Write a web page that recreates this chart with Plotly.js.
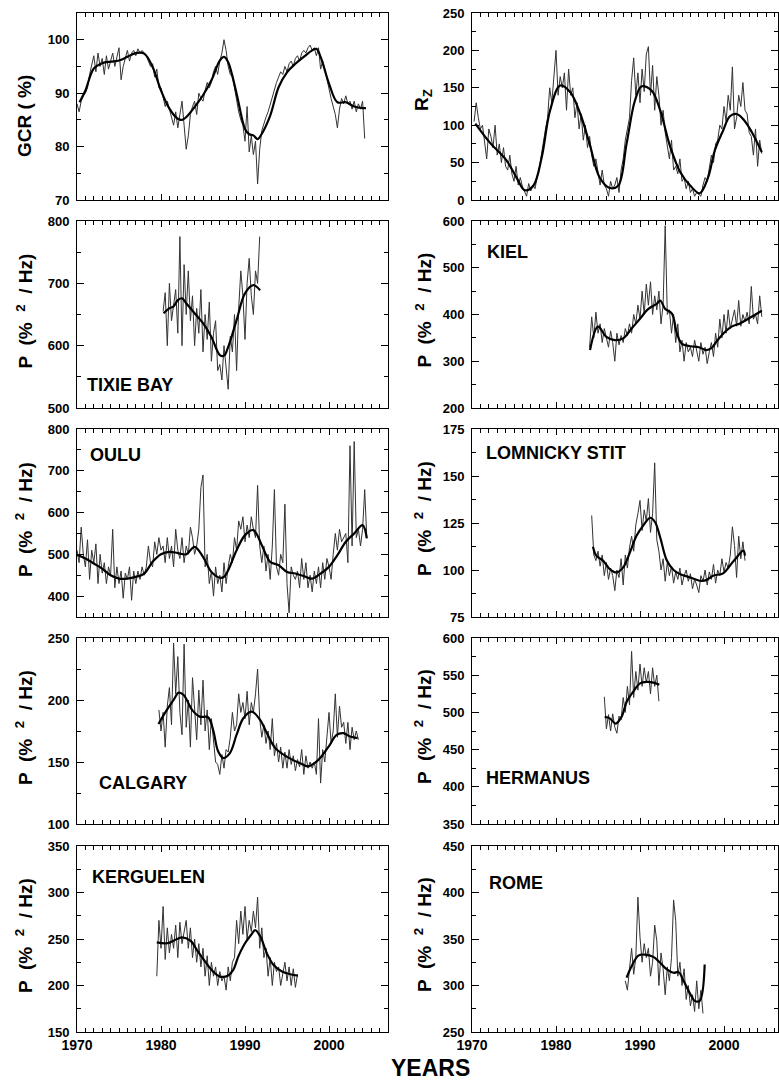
<!DOCTYPE html>
<html>
<head>
<meta charset="utf-8">
<script src="https://cdn.plot.ly/plotly-3.0.1.min.js"></script>
<style>html,body{margin:0;padding:0;background:#fff;}#chart{width:779px;height:1080px;}</style>
</head>
<body>
<div id="chart"></div>
<script>
// ---------- DATA ----------
const rawStep = 0.25; // quarterly samples of the thin (noisy) curves

// GCR (%)
const gcrStart = 1970.0;
const gcrRaw = [88,86.5,88.5,89.5, 90,91,93.5,95, 97,94,97.5,95, 96.5,93.5,97,94.5, 96,97.5,95,96.5, 98.5,92.5,95,96.5, 98,96,97.5,98, 97,98.3,97.5,98, 97.5,97,96,95, 95.5,93,94.5,91, 91,89.5,87.5,88.5, 87,86,84,86.5, 83.5,86,88.5,84, 79.5,82,86,87.5, 88.5,86,90,89, 88.5,90.5,92,91, 92,94,95,93.5, 96,97.5,100,98, 95,93.5,93,91, 88.5,86.5,85,84, 81,87.5,79,82, 78.5,81,73,79.5, 83,84.5,85.5,86.5, 88,89.5,91,92, 93,94,93.5,95, 94,95.5,96,95, 96.5,97,96,97.5, 98,97.5,98.5,99, 98,98.5,97,98.5, 94.5,96,94.5,92.5, 91,89,87.5,86, 83.5,87,89,88, 89.5,88,88.5,87, 88.5,86.5,88,87, 88.5,81.5];
const gcrSmoothYears = [1970.3,1971,1972,1973,1974,1975,1976,1977,1978,1979,1980,1981,1982,1982.5,1983,1984,1985,1986,1987,1987.5,1988,1989,1990,1990.5,1991,1991.5,1992,1993,1994,1995,1996,1997,1998,1998.5,1999,2000,2001,2002,2003,2004,2004.4];
const gcrSmooth = [88.3,90.5,94.6,95.6,95.9,96.1,96.8,97.5,97.4,94.9,90.5,87.1,85.2,85,85.5,87.4,89.6,92.4,96.1,96.8,95.8,89.9,83.3,82.3,82.1,81.4,82.4,85.8,91.1,93.9,95.5,96.8,98,98.3,96.8,91.8,88.3,88.3,87.5,87.2,87.2];

// Sunspot number Rz
const rzStart = 1970.25;
const rzRaw = [105,130,110, 95,100,80,55, 95,85,70,100, 60,75,50,70, 45,40,60,35, 25,45,20,30, 18,10,5,22, 12,20,15,30, 40,60,80,95, 110,150,130,165, 200,140,165,150, 170,120,175,140, 150,110,130,95, 115,80,100,70, 85,60,45,55, 35,20,40,20, 15,5,25,15, 20,30,10,40, 55,80,95,110, 160,190,140,170, 130,175,145,195, 205,140,180,120, 165,140,100,120, 90,70,55,80, 40,45,35,55, 25,30,15,25, 10,15,5,10, 8,5,20,30, 25,45,60,50, 75,80,100,95, 125,105,140,120, 178,95,110,140, 125,157,120,115, 90,85,60,95, 45,80,62];
const rzSmoothYears = [1970.4,1972.1,1974.1,1975.3,1976.3,1977.3,1978.3,1979.3,1980.5,1981.7,1982.9,1984.0,1985.2,1986.4,1987.4,1988.4,1989.4,1990.2,1991.4,1992.4,1993.6,1994.8,1996.0,1997.1,1998.1,1998.9,1999.9,2000.7,2001.5,2002.3,2003.3,2004.5];
const rzSmooth = [102,77,53,30,13,19,57,120,153,144,115,75,30,16,19,75,133,152,146,120,71,37,19,9,30,66,93,112,115,108,91,64];

// TIXIE BAY
const tixStart = 1980.25;
const tixRaw = [655,685,600, 700,640,670,690, 620,775,600,730, 650,720,640,680, 600,660,620,690, 590,650,610,670, 575,620,640,560, 570,545,600,560, 530,615,590,650, 560,660,720,680, 610,700,740,680, 650,720,700,775];
const tixSmoothYears = [1980.3,1981,1981.5,1982,1982.5,1983,1984,1985,1986,1987,1987.5,1988,1989,1990,1991,1991.8];
const tixSmooth = [652,660,663,673,676,668,652,636,614,585,584,598,641,684,697,689];

// KIEL
const kieStart = 1984.0;
const kieRaw = [330,395,350,405, 360,380,340,370, 350,330,365,340, 300,360,335,355, 340,370,355,380, 360,400,380,420, 390,450,400,465, 420,470,400,440, 410,450,380,420, 590,400,410,360, 400,340,380,320, 345,300,340,320, 330,310,345,320, 300,340,315,330, 295,320,340,310, 360,330,390,350, 400,360,410,370, 390,410,375,430, 375,400,385,405, 380,460,390,400, 380,440,395];
const kieSmoothYears = [1984.05,1985.0,1986.0,1987.0,1988.0,1989.0,1990.0,1991.0,1992.0,1992.4,1993.0,1993.8,1994.4,1995.0,1996.0,1997.0,1997.9,1998.5,1999.1,1999.9,2000.9,2001.9,2002.9,2004.5];
const kieSmooth = [324,374,352,345,349,370,391,412,423,430,412,402,359,337,332,330,324,328,342,359,374,381,391,408];

// OULU
const ouStart = 1970.0;
const ouRaw = [510,480,565,500, 470,535,440,510, 480,525,430,500, 455,480,430,470, 450,560,420,470, 430,460,395,455, 440,470,390,460, 430,460,440,470, 450,470,520,480, 470,530,500,540, 510,520,480,540, 490,520,470,560, 510,490,540,480, 520,500,565,540, 500,520,560,660, 690,470,500,430, 460,400,470,430, 450,410,480,430, 470,500,480,540, 510,580,560,590, 530,570,540,590, 560,540,665,520, 480,520,460,500, 440,520,655,470, 450,500,480,620, 430,360,470,450, 440,460,420,490, 440,480,420,450, 410,460,430,470, 420,480,440,490, 470,440,500,550, 510,560,530,540, 550,480,760,520, 770,540,560,520, 560,655,540];
const ouSmoothYears = [1970,1971,1972,1973,1974,1975,1976,1977,1978,1979,1980,1981,1982,1983,1984,1985,1986,1987,1987.5,1988,1989,1990,1991,1992,1993,1994,1995,1996,1997,1998,1999,2000,2001,2002,2003,2004,2004.5];
const ouSmooth = [499,490,478,466,450,442,442,446,454,482,500,506,503,500,518,494,458,444,446,462,510,546,558,522,482,474,458,454,448,442,454,470,498,530,550,570,538];

// LOMNICKY STIT
const loStart = 1984.25;
const loRaw = [129,108,105, 110,102,108,97, 104,95,101,97, 89,100,96,106, 92,108,101,112, 118,110,124,130, 137,121,132,126, 138,120,130,157, 116,110,100,106, 94,104,97,102, 93,99,95,101, 92,97,100,94, 98,90,95,92, 88,97,94,100, 92,99,95,103, 93,100,97,106, 99,104,101,108, 123,113,96,118, 106,115,105];
const loSmoothYears = [1984.4,1984.8,1985.6,1986.4,1987.2,1988.0,1988.8,1989.6,1990.4,1991.2,1991.8,1992.4,1993.2,1994.0,1994.8,1996.0,1997.1,1997.9,1998.7,1999.9,2000.7,2001.5,2002.3,2002.5];
const loSmooth = [112.4,107.6,105,100.5,98.7,101.4,109.4,118.3,123.7,127.8,125.4,117.4,105,100,97.8,96,94.3,94.6,97,98.2,102.3,106.7,110.3,107.6];

// CALGARY
const caStart = 1979.75;
const caRaw = [192, 175,190,162,195, 210,180,246,205, 235,190,172,245, 178,200,162,218, 190,168,208,180, 216,175,192,160, 185,165,150,148, 140,156,145,160, 158,170,190,175, 180,205,190,198, 185,207,180,198, 190,205,225,185, 170,180,165,175, 160,185,155,165, 150,162,145,158, 145,160,148,155, 143,152,146,160, 140,155,145,150, 145,150,140,185, 133,160,150,170, 190,165,175,205, 170,195,178,182, 165,182,160,178, 168,175,168];
const caSmoothYears = [1979.7,1980.7,1981.5,1982.1,1982.7,1983.7,1984.6,1985.6,1986.2,1986.8,1987.4,1988.2,1989.0,1989.8,1990.8,1991.8,1992.6,1993.6,1994.6,1995.6,1996.5,1997.5,1998.3,1999.1,2000.1,2000.9,2001.7,2002.5,2003.4];
const caSmooth = [180.7,192,200,205.9,204,192,186.6,186.1,176,158.6,153.2,157.2,172,185.3,190.6,184,173.3,161.2,155.9,151.9,149.2,146.5,149.2,154.5,163.9,171.9,173.3,170.6,169.3];

// HERMANUS
const heStart = 1985.75;
const heRaw = [521, 478,497,475,498, 480,472,495,490, 520,500,535,510, 582,520,555,530, 565,535,560,540, 555,525,560,535, 550,515];
const heSmoothYears = [1985.8,1986.4,1987.1,1987.8,1988.4,1989.2,1990.0,1990.8,1991.6,1992.3];
const heSmooth = [494,492,485,494,514,528,539,541,540,537];

// KERGUELEN
const keStart = 1979.5;
const keRaw = [210,270, 240,285,228,262, 235,255,240,265, 230,268,245,260, 270,240,262,230, 250,225,245,220, 240,210,232,200, 225,210,220,200, 215,205,210,195, 220,205,225,230, 270,245,280,255, 285,250,270,258, 280,262,295,240, 262,230,240,210, 230,200,225,215, 220,200,215,225, 205,220,200,218, 198,212];
const keSmoothYears = [1979.5,1980.7,1981.5,1982.5,1983.5,1984.4,1985.4,1986.2,1987.0,1988.0,1988.6,1989.2,1990.0,1990.8,1991.2,1991.8,1992.6,1993.4,1994.4,1995.4,1996.3];
const keSmooth = [246.4,245.4,248.2,251.8,248.2,236.4,223.9,215,209.6,210.7,216.8,231,245.4,255.4,259.6,253.2,234.6,222,215,212.1,210.7];

// ROME
const roStart = 1988.25;
const roRaw = [305,295,318, 340,312,330,395, 352,325,345,330, 340,310,325,365, 348,300,335,318, 290,320,305,330, 392,370,310,325, 300,318,285,300, 278,290,272,305, 275,295,270];
const roSmoothYears = [1988.4,1989.0,1989.8,1990.6,1991.6,1992.4,1993.2,1994.0,1994.6,1995.2,1996.0,1996.5,1997.1,1997.7];
const roSmooth = [308.4,320.8,332.2,333.3,330.8,324.4,317.3,313.7,314.4,304.8,290.6,283.5,283.5,322.6];

// axis tick labels
const yearTicks = [1970, 1980, 1990, 2000];
const pTitle = 'P  (%  <sup>2</sup>  / Hz)';

// ---------- PANELS ----------
const panels = [
  {start:gcrStart, raw:gcrRaw, sx:gcrSmoothYears, sy:gcrSmooth, yr:[70,105], dt:10, mdt:5, col:0, row:0, title:'GCR ( %)', tY:116},
  {start:rzStart, raw:rzRaw, sx:rzSmoothYears, sy:rzSmooth, yr:[0,250], dt:50, mdt:25, col:1, row:0, title:'R<sub>Z</sub>', tY:100},
  {start:tixStart, raw:tixRaw, sx:tixSmoothYears, sy:tixSmooth, yr:[500,800], dt:100, mdt:50, col:0, row:1, title:pTitle, label:'TIXIE BAY', lx:1970.95, ly:537},
  {start:kieStart, raw:kieRaw, sx:kieSmoothYears, sy:kieSmooth, yr:[200,600], dt:100, mdt:50, col:1, row:1, title:pTitle, label:'KIEL', lx:1971.55, ly:534},
  {start:ouStart, raw:ouRaw, sx:ouSmoothYears, sy:ouSmooth, yr:[350,800], dt:100, mdt:50, col:0, row:2, title:pTitle, label:'OULU', lx:1971.3, ly:738, tick0:400},
  {start:loStart, raw:loRaw, sx:loSmoothYears, sy:loSmooth, yr:[75,175], dt:25, mdt:12.5, col:1, row:2, title:pTitle, label:'LOMNICKY STIT', lx:1971.4, ly:162},
  {start:caStart, raw:caRaw, sx:caSmoothYears, sy:caSmooth, yr:[100,250], dt:50, mdt:25, col:0, row:3, title:pTitle, label:'CALGARY', lx:1972.4, ly:133},
  {start:heStart, raw:heRaw, sx:heSmoothYears, sy:heSmooth, yr:[350,600], dt:50, mdt:25, col:1, row:3, title:pTitle, label:'HERMANUS', lx:1971.4, ly:412},
  {start:keStart, raw:keRaw, sx:keSmoothYears, sy:keSmooth, yr:[150,350], dt:50, mdt:25, col:0, row:4, title:pTitle, label:'KERGUELEN', lx:1971.55, ly:317},
  {start:roStart, raw:roRaw, sx:roSmoothYears, sy:roSmooth, yr:[250,450], dt:50, mdt:25, col:1, row:4, title:pTitle, label:'ROME', lx:1971.8, ly:410}
];

// ---------- GEOMETRY ----------
const W = 779, H = 1080;
const M = {l:77, r:1, t:13, b:48};
const PW = W - M.l - M.r, PH = H - M.t - M.b;
const colPx = [[77,388],[472,778]];
const rowPx = [[13,200],[221,408],[429,617],[638,824],[846,1032]];
const pxPerYear = 8.4;
const fx = px => (px - M.l) / PW;
const fy = py => (H - M.b - py) / PH;

const FONT = 'Liberation Sans, Arial, Helvetica, sans-serif';
const traces = [];
const layout = {
  width: W, height: H,
  margin: {l:M.l, r:M.r, t:M.t, b:M.b, pad:0},
  paper_bgcolor:'#fff', plot_bgcolor:'#fff',
  showlegend:false,
  font:{family:FONT, color:'#000', size:13, weight:'bold'},
  annotations:[]
};

panels.forEach((p, i) => {
  const n = i + 1;
  const xid = n === 1 ? 'x' : 'x' + n;
  const yid = n === 1 ? 'y' : 'y' + n;
  const rawYears = p.raw.map((_, k) => p.start + k * rawStep);
  traces.push({type:'scatter', mode:'lines', x:rawYears, y:p.raw, xaxis:xid, yaxis:yid,
    line:{color:'#333333', width:1}, hoverinfo:'skip'});
  traces.push({type:'scatter', mode:'lines', x:p.sx, y:p.sy, xaxis:xid, yaxis:yid,
    line:{color:'#000', width:2.2, shape:'spline', smoothing:1}, hoverinfo:'skip'});

  const cp = colPx[p.col], rp = rowPx[p.row];
  const xr = [1970, 1970 + (cp[1] - cp[0]) / pxPerYear];
  layout['xaxis' + (n === 1 ? '' : n)] = {
    domain:[fx(cp[0]), fx(cp[1])], range:xr, anchor:yid,
    tickmode:'array', tickvals:yearTicks, ticktext:yearTicks.map(String),
    ticks:'inside', ticklen:6, tickwidth:1, tickcolor:'#000',
    minor:{dtick:1, tick0:1970, ticks:'inside', ticklen:4, tickwidth:1, tickcolor:'#000'},
    showline:true, linecolor:'#000', linewidth:1, mirror:'ticks',
    showgrid:false, zeroline:false,
    showticklabels: p.row === 4,
    tickfont:{family:FONT, size:14, color:'#000', weight:'bold'},
    fixedrange:true
  };
  layout['yaxis' + (n === 1 ? '' : n)] = {
    domain:[fy(rp[1]), fy(rp[0])], range:p.yr, anchor:xid,
    tickmode:'linear', tick0: p.tick0 !== undefined ? p.tick0 : p.yr[0], dtick:p.dt,
    ticks:'inside', ticklen:7, tickwidth:1, tickcolor:'#000',
    minor:{dtick:p.mdt, tick0:p.yr[0], ticks:'inside', ticklen:4, tickwidth:1, tickcolor:'#000'},
    showline:true, linecolor:'#000', linewidth:1, mirror:'ticks',
    showgrid:false, zeroline:false,
    tickfont:{family:FONT, size:13, color:'#000', weight:'bold'},
    ticklabelstandoff:4,
    fixedrange:true
  };

  // y-axis title
  const titleX = p.col === 0 ? 24 : 423;
  const titleY = p.tY !== undefined ? p.tY : (rp[0] + rp[1]) / 2 - 4;
  layout.annotations.push({xref:'paper', yref:'paper', x:fx(titleX), y:fy(titleY),
    text:p.title, textangle:-90, showarrow:false, xanchor:'center', yanchor:'middle',
    font:{family:FONT, size:19, color:'#000', weight:'bold'}});

  // station label
  if (p.label) {
    layout.annotations.push({xref:xid, yref:yid, x:p.lx, y:p.ly, text:p.label,
      showarrow:false, xanchor:'left', yanchor:'middle',
      font:{family:FONT, size:18, color:'#000', weight:'bold'}});
  }
});

layout.annotations.push({xref:'paper', yref:'paper', x:fx(430), y:fy(1068), text:'YEARS',
  showarrow:false, xanchor:'center', yanchor:'middle',
  font:{family:FONT, size:23, color:'#000', weight:'bold'}});

Plotly.newPlot('chart', traces, layout, {staticPlot:true, displayModeBar:false});
</script>
</body>
</html>
